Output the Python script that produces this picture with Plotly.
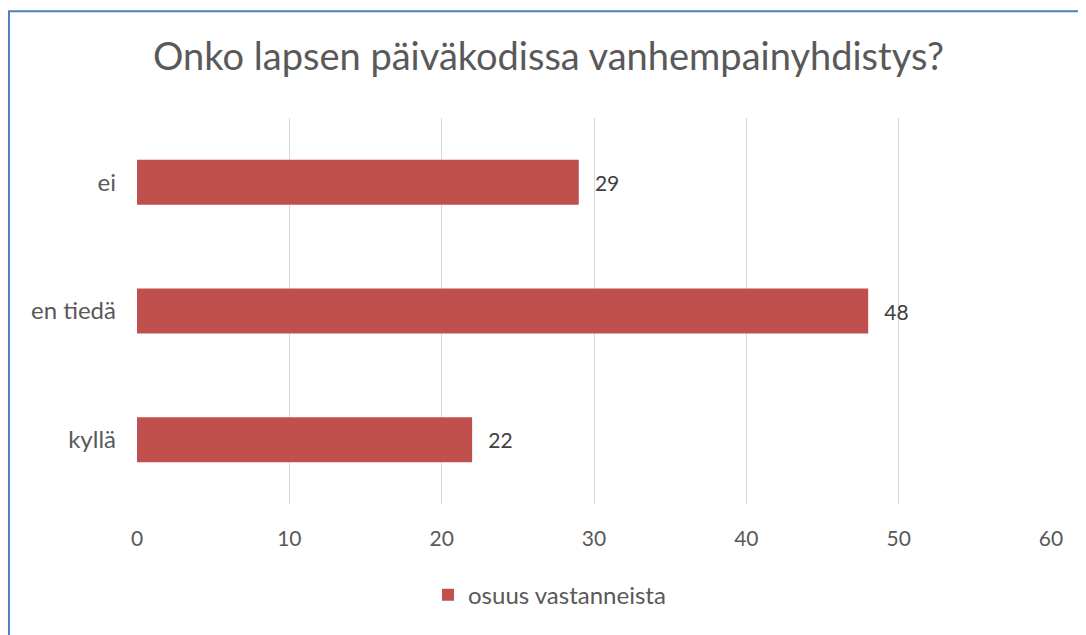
import plotly.graph_objects as go

categories = ["kyllä", "en tiedä", "ei"]
values = [22, 48, 29]
series_name = "osuus vastanneista"
title_text = "Onko lapsen päiväkodissa vanhempainyhdistys?"
x_ticks = [0, 10, 20, 30, 40, 50, 60]

# page has an 8px body offset; figure coords = page coords - 8
OFF = 8
W, H = 1086, 635
L = 137 - OFF
T = 117.5 - OFF
R = (W + OFF) - 1051
B = (H + OFF) - 504.5
pw, ph = W - L - R, H - T - B

def px_x(page_x):
    return (page_x - OFF - L) / pw

def px_y(page_y):
    return (T + ph - (page_y - OFF)) / ph

fig = go.Figure()
fig.add_trace(go.Bar(
    y=categories, x=values, orientation="h", name=series_name,
    marker=dict(color="#C0504D", line=dict(width=0)),
    width=0.35,
    texttemplate="\u2002\u2009%{x}", textposition="outside",
    textfont=dict(size=21, color="#404040", family="Lato"),
    cliponaxis=False, showlegend=True,
))

fig.update_layout(
    width=W, height=H,
    margin=dict(l=L, r=R, t=T, b=B, pad=0),
    paper_bgcolor="white", plot_bgcolor="white",
    font=dict(family="Lato", color="#595959"),
    title=dict(text=title_text, x=(548.5 - OFF) / W, xanchor="center",
               y=1 - (57 - OFF) / H, yanchor="middle",
               font=dict(size=38, color="#595959", family="Lato")),
    xaxis=dict(range=[0, 60], tickvals=x_ticks, showgrid=True, gridcolor="#D9D9D9",
               gridwidth=1, zeroline=False, showline=False, ticks="",
               ticklabelstandoff=20, tickfont=dict(size=21, color="#595959")),
    yaxis=dict(showgrid=False, zeroline=False, showline=False, ticks="",
               ticklabelstandoff=20, tickfont=dict(size=24, color="#595959"),
               range=[-0.5, 2.5]),
    legend=dict(orientation="h", x=px_x(428), xanchor="left",
                y=px_y(596), yanchor="middle",
                font=dict(size=24, color="#595959"), itemwidth=30),
)

# chart area frame (blue, visible on left/top)
fig.add_shape(type="rect", xref="paper", yref="paper",
              x0=px_x(9), x1=px_x(1100),
              y0=px_y(660), y1=px_y(10.5),
              line=dict(color="#4F81BD", width=2), fillcolor="rgba(0,0,0,0)", layer="above")

fig.write_html("out.html")
